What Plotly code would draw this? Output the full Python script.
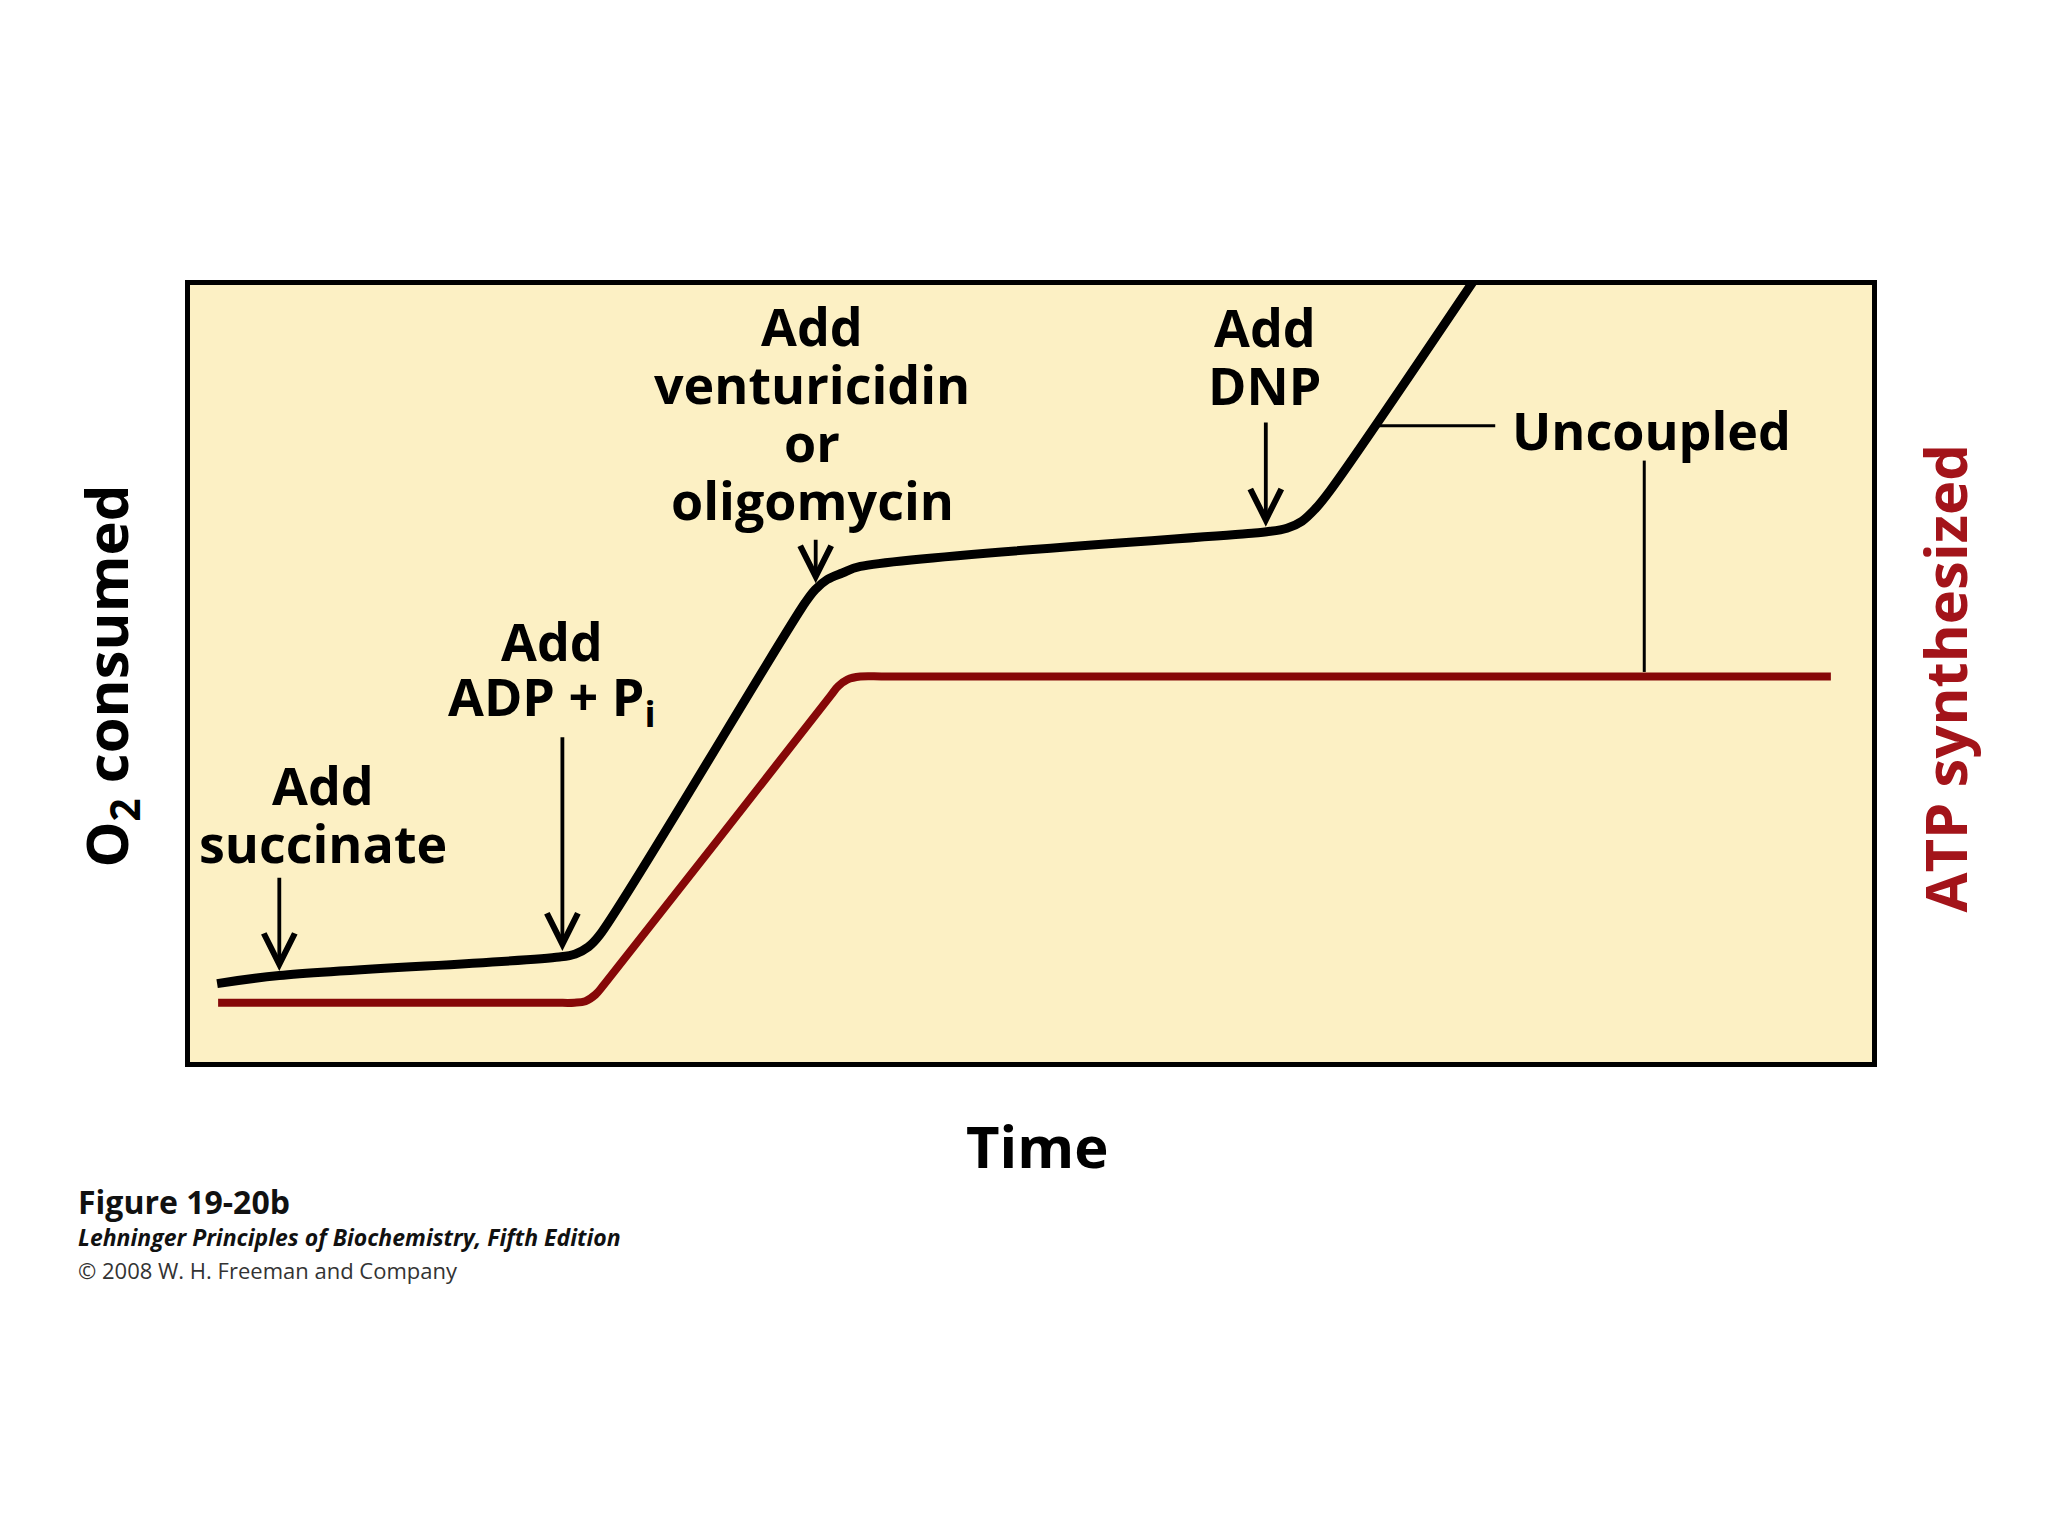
import plotly.graph_objects as go

# ---------------- data (arbitrary units) ----------------
time_o2 = [1.611, 5.310, 21.957, 22.912, 23.687, 24.344, 36.575, 37.172, 37.888,
           38.783, 39.857, 63.126, 64.021, 65.215, 66.110, 66.885, 67.780, 76.432]
o2_consumed = [10.09, 11.13, 13.51, 13.91, 14.81, 16.30, 59.12, 60.80, 62.10,
               62.94, 63.78, 68.05, 68.24, 68.69, 69.60, 71.15, 73.54, 100.91]

time_atp = [1.671, 5.31, 21.5, 22.852, 23.508, 24.105, 24.642, 38.067, 38.544, 39.081,
            39.857, 41.5, 86.46, 97.554]
atp_synthesized = [7.63, 7.63, 7.63, 7.63, 7.83, 8.67, 10.03, 47.09, 48.38, 49.22,
                   49.61, 49.61, 49.61, 49.61]

event_labels = [["Add", "succinate"],
                ["Add", "ADP + P<sub>i</sub>"],
                ["Add", "venturicidin", "or", "oligomycin"],
                ["Add", "DNP"]]
event_times = [5.31, 22.14, 37.2, 63.96]

# ---------------- styling / layout positions ----------------
BLACK = "#000000"
RED_LINE = "#860808"
RED_TEXT = "#a3141a"
BG = "#FCF0C4"
FONT = "Open Sans"

label_pos = [(7.88, 31.95), (21.5, 50.5), (37.0, 83.6), (63.9, 90.95)]
arrow_tail_y = [23.9, 42.0, 67.4, 82.5]
arrow_head_y = [11.7, 14.3, 61.6, 68.9]
LINE_STEP = 58

fig = go.Figure()
fig.add_trace(go.Scatter(x=time_o2, y=o2_consumed, mode="lines",
                         line=dict(color=BLACK, width=9, shape="spline", smoothing=1),
                         hoverinfo="skip", showlegend=False))
fig.add_trace(go.Scatter(x=time_atp, y=atp_synthesized, mode="lines",
                         line=dict(color=RED_LINE, width=8, shape="spline", smoothing=1),
                         hoverinfo="skip", showlegend=False))

annotations = []
for lines, (lx, ly), t, ty, hy in zip(event_labels, label_pos, event_times,
                                      arrow_tail_y, arrow_head_y):
    n = len(lines)
    for i, line in enumerate(lines):
        annotations.append(dict(
            x=lx, y=ly, xref="x", yref="y", text=line, showarrow=False,
            xanchor="center", yanchor="middle",
            yshift=((n - 1) / 2 - i) * LINE_STEP,
            font=dict(family=FONT, size=52, color=BLACK, weight="bold")))
    annotations.append(dict(
        x=t, y=hy, ax=t, ay=ty, xref="x", yref="y", axref="x", ayref="y",
        text="", showarrow=True, arrowhead=5, arrowsize=1.6, arrowwidth=3.8,
        arrowcolor=BLACK, standoff=0))

# Uncoupled label
annotations.append(dict(x=86.9, y=81.4, xref="x", yref="y", text="Uncoupled",
                        showarrow=False, xanchor="center", yanchor="middle",
                        font=dict(family=FONT, size=52, color=BLACK, weight="bold")))

# axis titles
annotations.append(dict(x=-0.0483, y=0.497, xref="paper", yref="paper",
                        text="O<sub>2</sub> consumed", textangle=-90, showarrow=False,
                        xanchor="center", yanchor="middle",
                        font=dict(family=FONT, size=58, color=BLACK, weight="bold")))
annotations.append(dict(x=1.043, y=0.494, xref="paper", yref="paper",
                        text="ATP synthesized", textangle=-90, showarrow=False,
                        xanchor="center", yanchor="middle",
                        font=dict(family=FONT, size=58, color=RED_TEXT, weight="bold")))
annotations.append(dict(x=0.504, y=-0.108, xref="paper", yref="paper",
                        text="Time", showarrow=False,
                        xanchor="center", yanchor="middle",
                        font=dict(family=FONT, size=58, color=BLACK, weight="bold")))

# footer
annotations.append(dict(x=-0.068, y=-0.18, xref="paper", yref="paper",
                        text="Figure 19-20b", showarrow=False,
                        xanchor="left", yanchor="middle",
                        font=dict(family=FONT, size=32, color="#111111", weight="bold")))
annotations.append(dict(x=-0.068, y=-0.225, xref="paper", yref="paper",
                        text="<i>Lehninger Principles of Biochemistry, Fifth Edition</i>",
                        showarrow=False, xanchor="left", yanchor="middle",
                        font=dict(family=FONT, size=23, color="#111111", weight="bold")))
annotations.append(dict(x=-0.068, y=-0.268, xref="paper", yref="paper",
                        text="© 2008 W. H. Freeman and Company", showarrow=False,
                        xanchor="left", yanchor="middle",
                        font=dict(family=FONT, size=22, color="#333333")))

shapes = [
    dict(type="line", xref="x", yref="y", x0=70.41, y0=81.9, x1=77.6, y1=81.9,
         line=dict(color=BLACK, width=3)),
    dict(type="line", xref="x", yref="y", x0=86.46, y0=77.4, x1=86.46, y1=50.2,
         line=dict(color=BLACK, width=3)),
]

# the page body adds an 8px offset, so the figure is sized/margined to compensate
fig.update_layout(
    width=2040, height=1528,
    margin=dict(l=182, r=176, t=277, b=474, pad=0),
    paper_bgcolor="white", plot_bgcolor=BG,
    annotations=annotations, shapes=shapes, showlegend=False,
    xaxis=dict(range=[0, 100], showgrid=False, zeroline=False, showticklabels=False,
               ticks="", showline=True, mirror=True, linecolor=BLACK, linewidth=5,
               fixedrange=True),
    yaxis=dict(range=[0, 100], showgrid=False, zeroline=False, showticklabels=False,
               ticks="", showline=True, mirror=True, linecolor=BLACK, linewidth=5,
               fixedrange=True),
)

fig.write_html("out.html")
